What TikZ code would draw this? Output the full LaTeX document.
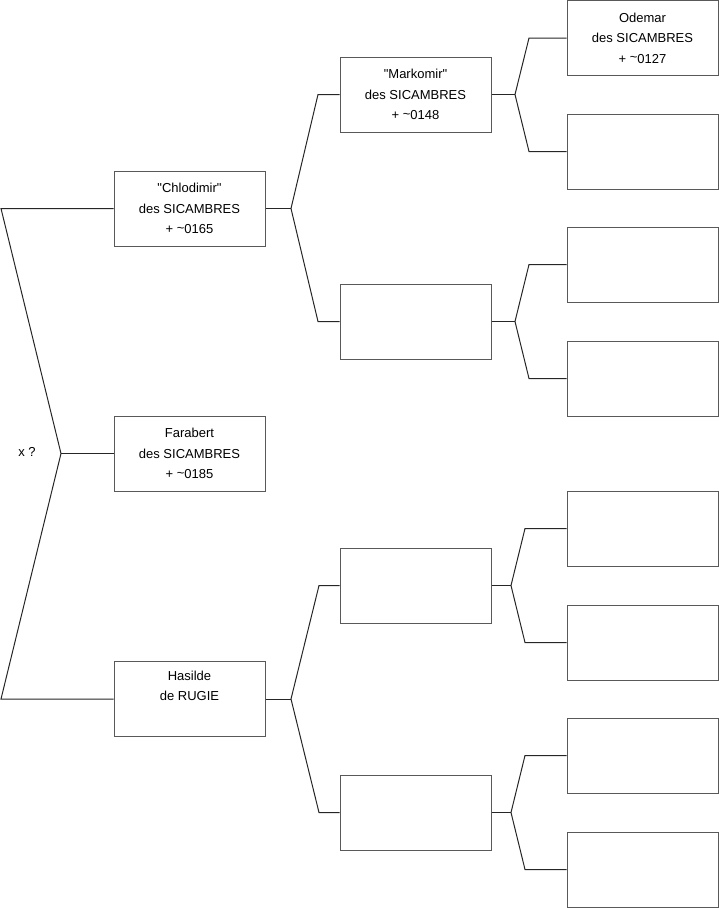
\documentclass[tikz,border=0pt]{standalone}
\usepackage{fontspec}
\setmainfont{Liberation Sans}
\begin{document}
\begin{tikzpicture}[x=1pt,y=-1pt,
  pbox/.style={draw=black!65, line width=1pt, minimum width=151pt, minimum height=75pt, inner sep=0pt, align=center, font=\fontsize{13}{20.5}\selectfont},
  conn/.style={draw=black!85, line width=1pt}]
\useasboundingbox (0,0) rectangle (719,908);
% generation 1
\node[pbox] (c1) at (189.5,208.5) {\textquotedbl Chlodimir\textquotedbl\\des SICAMBRES\\+ \raisebox{0.2ex}{\textasciitilde}0165};
\node[pbox] (c2) at (189.5,453.5) {Farabert\\des SICAMBRES\\+ \raisebox{0.2ex}{\textasciitilde}0185};
\node[pbox] (c3) at (189.5,699) {Hasilde\\de RUGIE\\\strut};
% generation 2
\node[pbox] (m1) at (415.5,94.5) {\textquotedbl Markomir\textquotedbl\\des SICAMBRES\\+ \raisebox{0.2ex}{\textasciitilde}0148};
\node[pbox] (m2) at (415.5,321.5) {};
\node[pbox] (m3) at (415.5,585.5) {};
\node[pbox] (m4) at (415.5,812.5) {};
% generation 3
\node[pbox] (r1) at (642.5,38) {Odemar\\des SICAMBRES\\+ \raisebox{0.2ex}{\textasciitilde}0127};
\node[pbox] (r2) at (642.5,151.5) {};
\node[pbox] (r3) at (642.5,264.5) {};
\node[pbox] (r4) at (642.5,378.5) {};
\node[pbox] (r5) at (642.5,528.5) {};
\node[pbox] (r6) at (642.5,642.5) {};
\node[pbox] (r7) at (642.5,755.5) {};
\node[pbox] (r8) at (642.5,869.5) {};
% label
\node[font=\fontsize{13}{15}\selectfont] (x) at (27,452) {x ?};
% left bracket
\coordinate (L1) at (1,208.5);
\coordinate (F0) at (61,453.5);
\coordinate (L3) at (1,699);
\draw[conn] (c1.west) -- (L1) -- (F0) -- (L3) -- (c3.west);
\draw[conn] (F0) -- (c2.west);
% gen1 -> gen2
\coordinate (F1) at (291,208.5);
\coordinate (A1) at (318,94.5);
\coordinate (A2) at (318,321.5);
\draw[conn] (c1.east) -- (F1);
\draw[conn] (m1.west) -- (A1) -- (F1) -- (A2) -- (m2.west);
\coordinate (F3) at (291,699);
\coordinate (A3) at (319,585.5);
\coordinate (A4) at (319,812.5);
\draw[conn] (c3.east) -- (F3);
\draw[conn] (m3.west) -- (A3) -- (F3) -- (A4) -- (m4.west);
% gen2 -> gen3
\coordinate (G1) at (515,94.5);
\coordinate (B1) at (529,38);
\coordinate (B2) at (529,151.5);
\draw[conn] (m1.east) -- (G1);
\draw[conn] (r1.west) -- (B1) -- (G1) -- (B2) -- (r2.west);
\coordinate (G2) at (515,321.5);
\coordinate (B3) at (529,264.5);
\coordinate (B4) at (529,378.5);
\draw[conn] (m2.east) -- (G2);
\draw[conn] (r3.west) -- (B3) -- (G2) -- (B4) -- (r4.west);
\coordinate (G3) at (511,585.5);
\coordinate (B5) at (525,528.5);
\coordinate (B6) at (525,642.5);
\draw[conn] (m3.east) -- (G3);
\draw[conn] (r5.west) -- (B5) -- (G3) -- (B6) -- (r6.west);
\coordinate (G4) at (511,812.5);
\coordinate (B7) at (525,755.5);
\coordinate (B8) at (525,869.5);
\draw[conn] (m4.east) -- (G4);
\draw[conn] (r7.west) -- (B7) -- (G4) -- (B8) -- (r8.west);
\end{tikzpicture}
\end{document}
